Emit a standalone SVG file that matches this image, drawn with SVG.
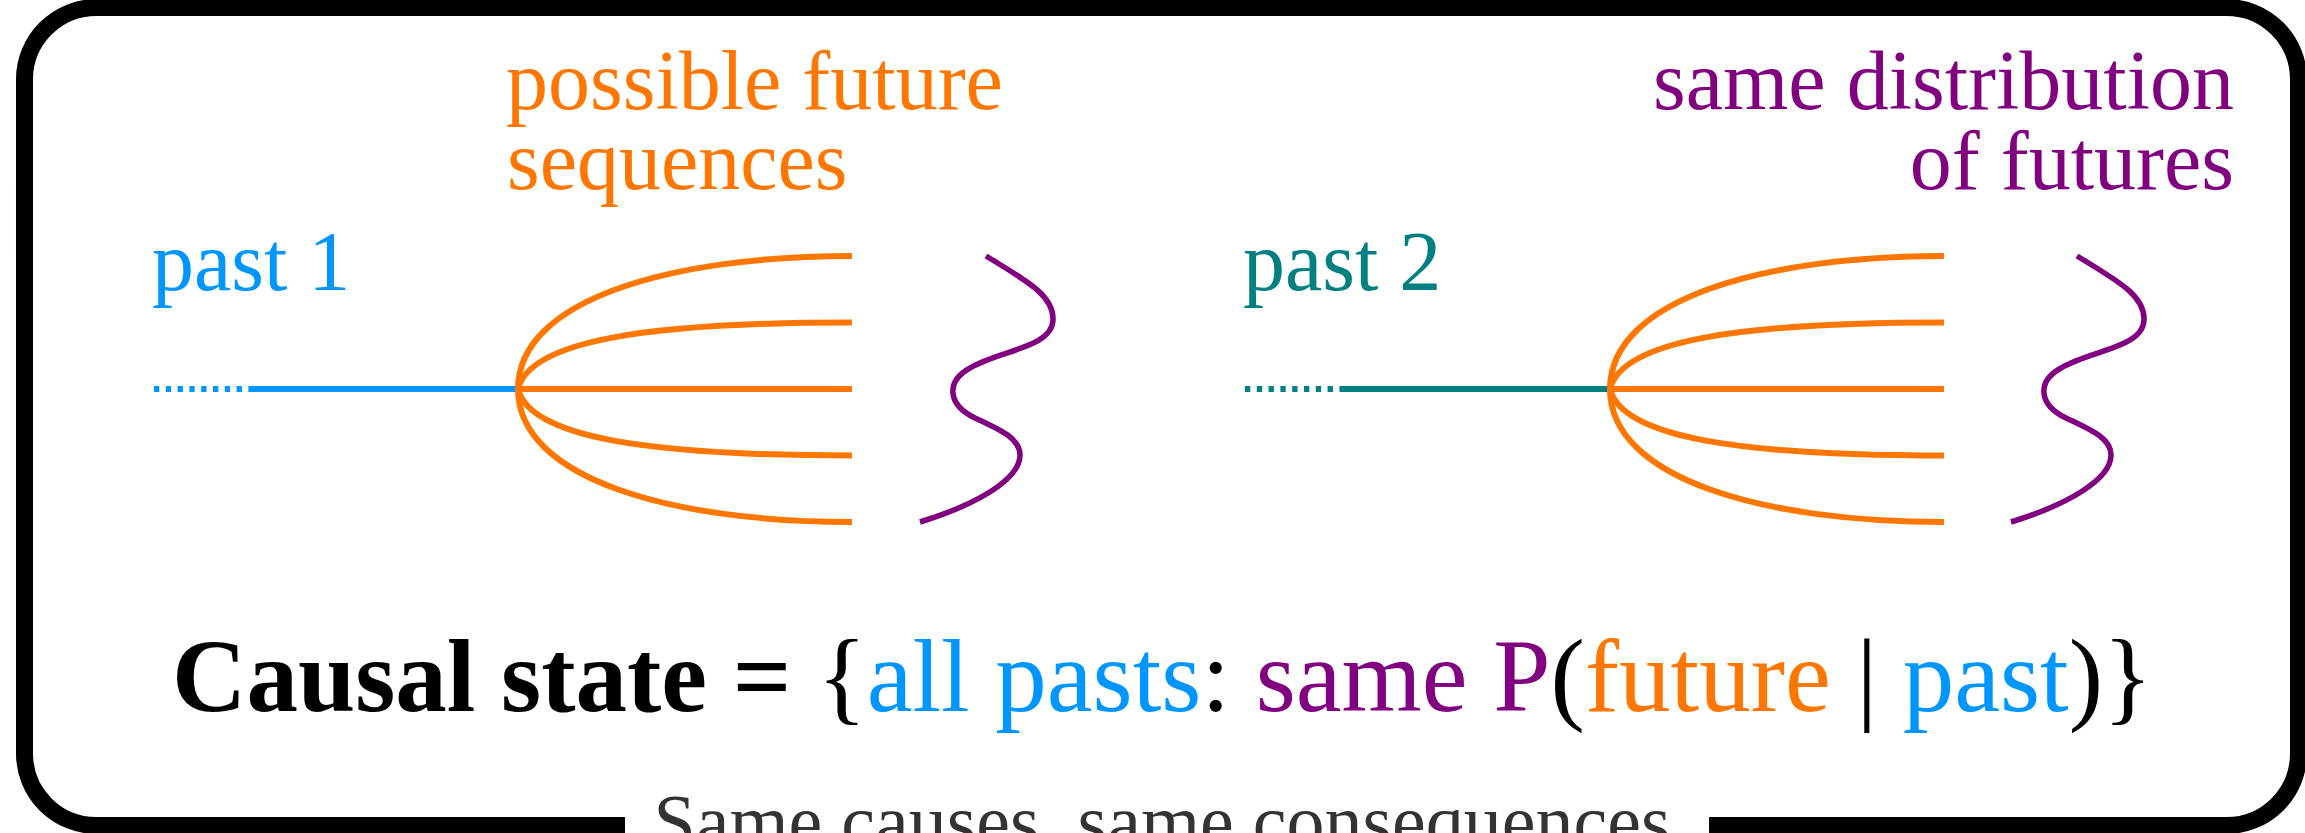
<svg xmlns="http://www.w3.org/2000/svg" width="2305" height="833" viewBox="0 0 2305 833">
<style>
text{font-family:"Liberation Serif","Times New Roman",serif}
.lbl{font-size:84px}
.fan{fill:none;stroke:#ff7700;stroke-width:6}
.sq{fill:none;stroke:#800080;stroke-width:5.5}
.blue{fill:#0096ff}
.teal{fill:#008080}
.org{fill:#ff7700}
.pur{fill:#800080}
</style>
<defs>
<g id="fanShape">
<path class="fan" d="M518,389 C518,299 672,256 852,256"/>
<path class="fan" d="M518,389 C530,340 650,322.5 852,322.5"/>
<path class="fan" d="M518,389 H852"/>
<path class="fan" d="M518,389 C530,438 650,455.5 852,455.5"/>
<path class="fan" d="M518,389 C518,479 672,522 852,522"/>
</g>
<path id="squig" class="sq" d="M986,256 C1025,280 1054,295 1053,320 C1052,348 1000,350 970,368 C945,382 948,405 975,418 C1000,430 1020,438 1020,455 C1020,480 975,505 920,522"/>
</defs>
<g id="frame">
<rect x="24.5" y="7.5" width="2274" height="818" rx="72" ry="72" fill="#fff" stroke="#000" stroke-width="17"/>
</g>
<g id="connectors">
<path d="M154,389 H252" stroke="#0096ff" stroke-width="6" stroke-dasharray="5.3 6.5" fill="none"/>
<path d="M252,389 H518" stroke="#0096ff" stroke-width="6" fill="none"/>
<use href="#fanShape"/>
<use href="#squig"/>
<path d="M1245,389 H1343" stroke="#008080" stroke-width="6" stroke-dasharray="5.3 6.5" fill="none"/>
<path d="M1343,389 H1610" stroke="#008080" stroke-width="6" fill="none"/>
<use href="#fanShape" transform="translate(1092,0)"/>
<use href="#squig" transform="translate(1091,0)"/>
</g>
<g id="label-future">
<text class="lbl org" x="506" y="109">possible future</text>
<text class="lbl org" x="507" y="189">sequences</text>
</g>
<g id="label-same">
<text class="lbl pur" x="2234" y="109" text-anchor="end">same distribution</text>
<text class="lbl pur" x="2234" y="189" text-anchor="end">of futures</text>
</g>
<g id="label-past1">
<text class="lbl blue" x="152" y="290">past 1</text>
</g>
<g id="label-past2">
<text class="lbl teal" x="1243" y="290">past 2</text>
</g>
<g id="formula">
<text x="172" y="711" font-size="103"><tspan font-weight="bold" fill="#000">Causal state =</tspan> <tspan fill="#000">{</tspan><tspan class="blue">all pasts</tspan><tspan fill="#000">:</tspan> <tspan class="pur">same P</tspan><tspan fill="#000">(</tspan><tspan class="org">future</tspan> <tspan fill="#000">|</tspan> <tspan class="blue">past</tspan><tspan fill="#000">)}</tspan></text>
</g>
<g id="caption">
<rect x="625" y="800" width="1084" height="40" fill="#fff"/>
<text x="1162" y="847" font-size="76" fill="#333" text-anchor="middle">Same causes, same consequences</text>
</g>
</svg>
